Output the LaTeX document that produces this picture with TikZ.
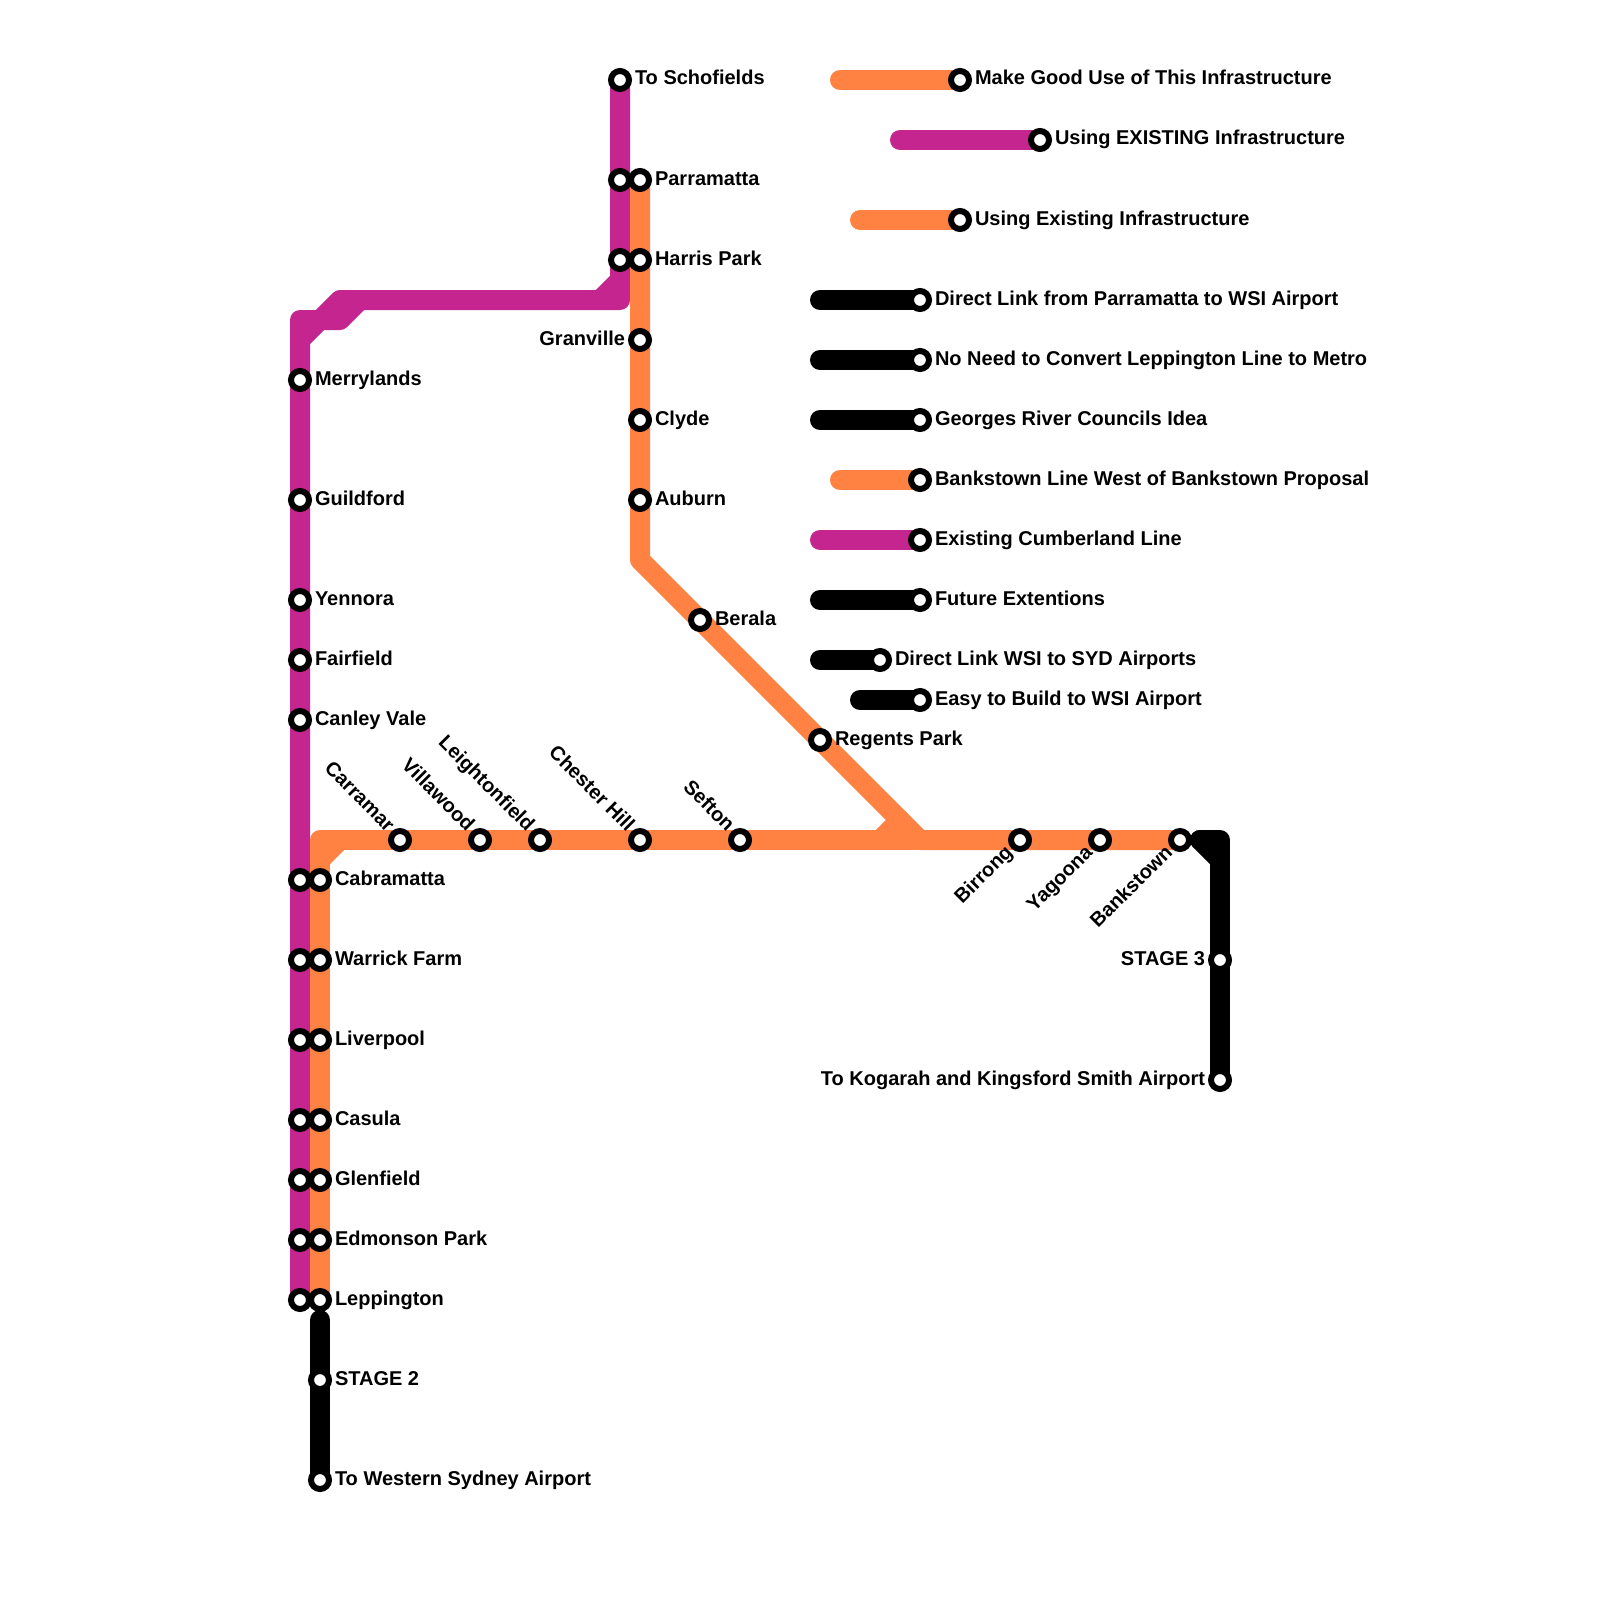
\documentclass[tikz,border=0pt]{standalone}
\usepackage{fontspec}
\setmainfont{Liberation Sans}
\usetikzlibrary{positioning,backgrounds}
\definecolor{trackorange}{HTML}{FF8243}
\definecolor{trackpurple}{HTML}{C4258F}

\begin{document}
\begin{tikzpicture}[x=0.5pt, y=-0.5pt,
  every node/.style = {inner sep=0pt, outer sep=0pt},
  station/.style = {shape=circle, draw=black, fill=white,
    line width=3pt, minimum size=9pt},
  stationlabel/.style = {font=\bfseries\fontsize{10pt}{12pt}\selectfont,
    text height=8pt, text depth=3pt},
  track/.style = {line width=10pt, line cap=round, line join=round},
  purpletrack/.style = {track, draw=trackpurple},
  orangetrack/.style = {track, draw=trackorange},
  blacktrack/.style = {track, draw=black},
 ]
 \useasboundingbox (0,0) rectangle (1600,1600);

 % stations with a label on the right
 \foreach \n/\x/\y/\txt in {
   schofields/620/80/To Schofields, parramatta/640/180/Parramatta,
   harrispark/640/260/Harris Park, clyde/640/420/Clyde, auburn/640/500/Auburn,
   berala/700/620/Berala, regentspark/820/740/Regents Park,
   merrylands/300/380/Merrylands, guildford/300/500/Guildford,
   yennora/300/600/Yennora, fairfield/300/660/Fairfield,
   canleyvale/300/720/Canley Vale, cabramatta/320/880/Cabramatta,
   warrickfarm/320/960/Warrick Farm, liverpool/320/1040/Liverpool,
   casula/320/1120/Casula, glenfield/320/1180/Glenfield,
   edmonson/320/1240/Edmonson Park, leppington/320/1300/Leppington,
   stagetwo/320/1380/STAGE 2, wsiairport/320/1480/To Western Sydney Airport,
   keymakegood/960/80/Make Good Use of This Infrastructure,
   keyexisting/1040/140/Using EXISTING Infrastructure,
   keyusing/960/220/Using Existing Infrastructure,
   keydirect/920/300/Direct Link from Parramatta to WSI Airport,
   keyconvert/920/360/No Need to Convert Leppington Line to Metro,
   keygeorges/920/420/Georges River Councils Idea,
   keybankstown/920/480/Bankstown Line West of Bankstown Proposal,
   keycumberland/920/540/Existing Cumberland Line,
   keyfuture/920/600/Future Extentions,
   keysyd/880/660/Direct Link WSI to SYD Airports,
   keyeasy/920/700/Easy to Build to WSI Airport}
   {\node[station] (\n) at (\x,\y) {};
    \node[stationlabel, right=3pt of \n] (\n label) {\txt};}

 % stations with a label on the left
 \foreach \n/\x/\y/\txt in {
   granville/640/340/Granville, stagethree/1220/960/STAGE 3,
   kogarah/1220/1080/To Kogarah and Kingsford Smith Airport}
   {\node[station] (\n) at (\x,\y) {};
    \node[stationlabel, left=3pt of \n] (\n label) {\txt};}

 % slanted labels
 \foreach \n/\x/\txt in {
   carramar/400/Carramar, villawood/480/Villawood,
   leightonfield/540/Leightonfield, chesterhill/640/Chester Hill,
   sefton/740/Sefton}
   {\node[station] (\n) at (\x,840) {};
    \node[stationlabel, rotate=-45, anchor=east] (\n label)
      at ([shift={(-10,-11)}]\n.center) {\txt};}
 \foreach \n/\x/\txt in {
   birrong/1020/Birrong, yagoona/1100/Yagoona, bankstown/1180/Bankstown}
   {\node[station] (\n) at (\x,840) {};
    \node[stationlabel, rotate=45, anchor=east] (\n label)
      at ([shift={(-10,10)}]\n.center) {\txt};}

 % the purple line has no labels of its own here
 \foreach \n/\x/\y in {
   parramattap/620/180, harrisparkp/620/260, cabramattap/300/880,
   warrickfarmp/300/960, liverpoolp/300/1040, casulap/300/1120,
   glenfieldp/300/1180, edmonsonp/300/1240, leppingtonp/300/1300}
   {\node[station] (\n) at (\x,\y) {};}

 % bends and free ends
 \foreach \n/\x/\y in {
   pa/620/300, pb/620/280, pc/600/300, pd/360/300, pe/340/300, pf/340/320,
   pg/320/320, ph/300/320, pi/300/340,
   oa/640/560, ob/920/840, oc/900/820, od/880/840,
   oe/320/840, of/340/840, og/320/860,
   ba/1220/840, bb/1200/840, bc/1220/860, bd/320/1320,
   ka/840/80, kb/900/140, kc/860/220, kd/820/300, ke/820/360, kf/820/420,
   kg/840/480, kh/820/540, ki/820/600, kj/820/660, kk/860/700}
   {\coordinate (\n) at (\x,\y);}

 \begin{scope}[on background layer]
  \draw[purpletrack] (schofields.center) -- (pa) -- (pe) -- (pg) -- (ph) -- (leppingtonp.center);
  \draw[purpletrack] (pc) -- (pb);
  \draw[purpletrack] (pd) -- (pf) -- (pg);
  \draw[purpletrack] (pi) -- (pg);
  \draw[purpletrack] (kb) -- (keyexisting.center);
  \draw[purpletrack] (kh) -- (keycumberland.center);

  \draw[orangetrack] (parramatta.center) -- (oa) -- (ob) -- (bankstown.center);
  \draw[orangetrack] (leppington.center) -- (oe) -- (bankstown.center);
  \draw[orangetrack] (og) -- (of);
  \draw[orangetrack] (oc) -- (od);
  \draw[orangetrack] (ka) -- (keymakegood.center);
  \draw[orangetrack] (kc) -- (keyusing.center);
  \draw[orangetrack] (kg) -- (keybankstown.center);

  \draw[blacktrack] (bb) -- (ba) -- (kogarah.center);
  \draw[blacktrack] (bb) -- (bc);
  \draw[blacktrack] (bd) -- (wsiairport.center);
  \draw[blacktrack] (kd) -- (keydirect.center);
  \draw[blacktrack] (ke) -- (keyconvert.center);
  \draw[blacktrack] (kf) -- (keygeorges.center);
  \draw[blacktrack] (ki) -- (keyfuture.center);
  \draw[blacktrack] (kj) -- (keysyd.center);
  \draw[blacktrack] (kk) -- (keyeasy.center);
 \end{scope}
\end{tikzpicture}
\end{document}
